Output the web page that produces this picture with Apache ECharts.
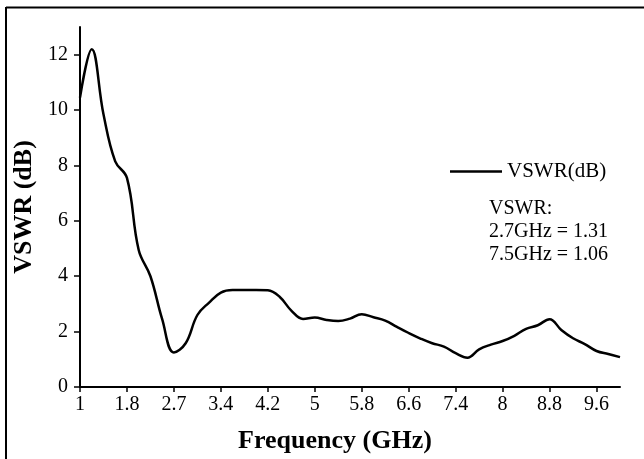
<!DOCTYPE html>
<html>
<head>
<meta charset="utf-8">
<script src="https://cdn.jsdelivr.net/npm/echarts@6/dist/echarts.min.js"></script>
<style>
  html, body { margin: 0; padding: 0; background: #fff; }
  #chart { width: 644px; height: 459px; }
</style>
</head>
<body>
<div id="chart"></div>
<script>
// frequency points (GHz), one label every 4th point
var freqs = ['1', '1.2', '1.4', '1.6', '1.8', '2', '2.3', '2.5', '2.7', '2.9',
  '3.1', '3.2', '3.4', '3.6', '3.8', '4', '4.2', '4.4', '4.6', '4.8',
  '5', '5.2', '5.4', '5.6', '5.8', '6', '6.2', '6.4', '6.6', '6.8',
  '7', '7.2', '7.4', '7.6', '7.7', '7.9', '8', '8.2', '8.4', '8.6',
  '8.8', '9', '9.2', '9.4', '9.6', '9.8', '10'];
// VSWR(dB)
var vswr = [10.45, 12.2, 9.85, 8.15, 7.55, 4.95, 4.0, 2.45, 1.25, 1.58,
  2.6, 3.05, 3.41, 3.5, 3.5, 3.5, 3.49, 3.26, 2.76, 2.46,
  2.51, 2.42, 2.38, 2.47, 2.63, 2.52, 2.4, 2.17, 1.95, 1.75,
  1.58, 1.46, 1.22, 1.06, 1.36, 1.53, 1.66, 1.85, 2.1, 2.23,
  2.45, 2.06, 1.76, 1.55, 1.3, 1.19, 1.08];
var yTicks = [0, 2, 4, 6, 8, 10, 12];
var noteLines = ['VSWR:', '2.7GHz = 1.31', '7.5GHz = 1.06'];

var font = 'Liberation Serif, Times New Roman, serif';
var myChart = echarts.init(document.getElementById('chart'));
myChart.setOption({
  backgroundColor: '#fff',
  animation: false,
  textStyle: { fontFamily: font, color: '#000' },
  grid: { left: 80, right: 24, top: 27, bottom: 72 },
  legend: {
    left: 445,
    top: 156,
    icon: 'rect',
    itemWidth: 52,
    itemHeight: 2.5,
    textStyle: { fontFamily: font, fontSize: 21, color: '#000' },
    data: ['VSWR(dB)']
  },
  xAxis: {
    type: 'category',
    data: freqs,
    boundaryGap: false,
    name: 'Frequency (GHz)',
    nameLocation: 'middle',
    nameGap: 41,
    nameTextStyle: { fontFamily: font, fontSize: 26, fontWeight: 'bold', color: '#000', padding: [0, 30, 0, 0] },
    axisLine: { lineStyle: { color: '#000', width: 2 } },
    axisTick: { interval: 3, length: 5, lineStyle: { color: '#000', width: 1.5 } },
    axisLabel: { interval: 3, fontFamily: font, fontSize: 20, color: '#000', margin: 8 },
    splitLine: { show: false }
  },
  yAxis: {
    type: 'value',
    min: 0,
    max: 13,
    interval: 2,
    name: 'VSWR (dB)',
    nameLocation: 'middle',
    nameGap: 40,
    nameTextStyle: { fontFamily: font, fontSize: 26, fontWeight: 'bold', color: '#000' },
    axisLine: { show: true, lineStyle: { color: '#000', width: 2 } },
    axisTick: { show: true, length: 6, customValues: yTicks, lineStyle: { color: '#000', width: 1.5 } },
    axisLabel: { customValues: yTicks, fontFamily: font, fontSize: 20, color: '#000', margin: 12 },
    splitLine: { show: false }
  },
  graphic: [
    { type: 'line', shape: { x1: 6, y1: 7.5, x2: 644, y2: 7.5 }, style: { stroke: '#000', lineWidth: 2 } },
    { type: 'line', shape: { x1: 6, y1: 7, x2: 6, y2: 459 }, style: { stroke: '#000', lineWidth: 2 } },
    {
      type: 'text',
      left: 489,
      top: 197,
      style: {
        text: noteLines.join('\n'),
        font: '20px ' + font,
        fill: '#000',
        lineHeight: 23
      }
    }
  ],
  series: [{
    name: 'VSWR(dB)',
    type: 'line',
    data: vswr,
    smooth: 0.4,
    symbol: 'none',
    lineStyle: { color: '#000', width: 2.5 },
    itemStyle: { color: '#000' }
  }]
});
</script>
</body>
</html>
